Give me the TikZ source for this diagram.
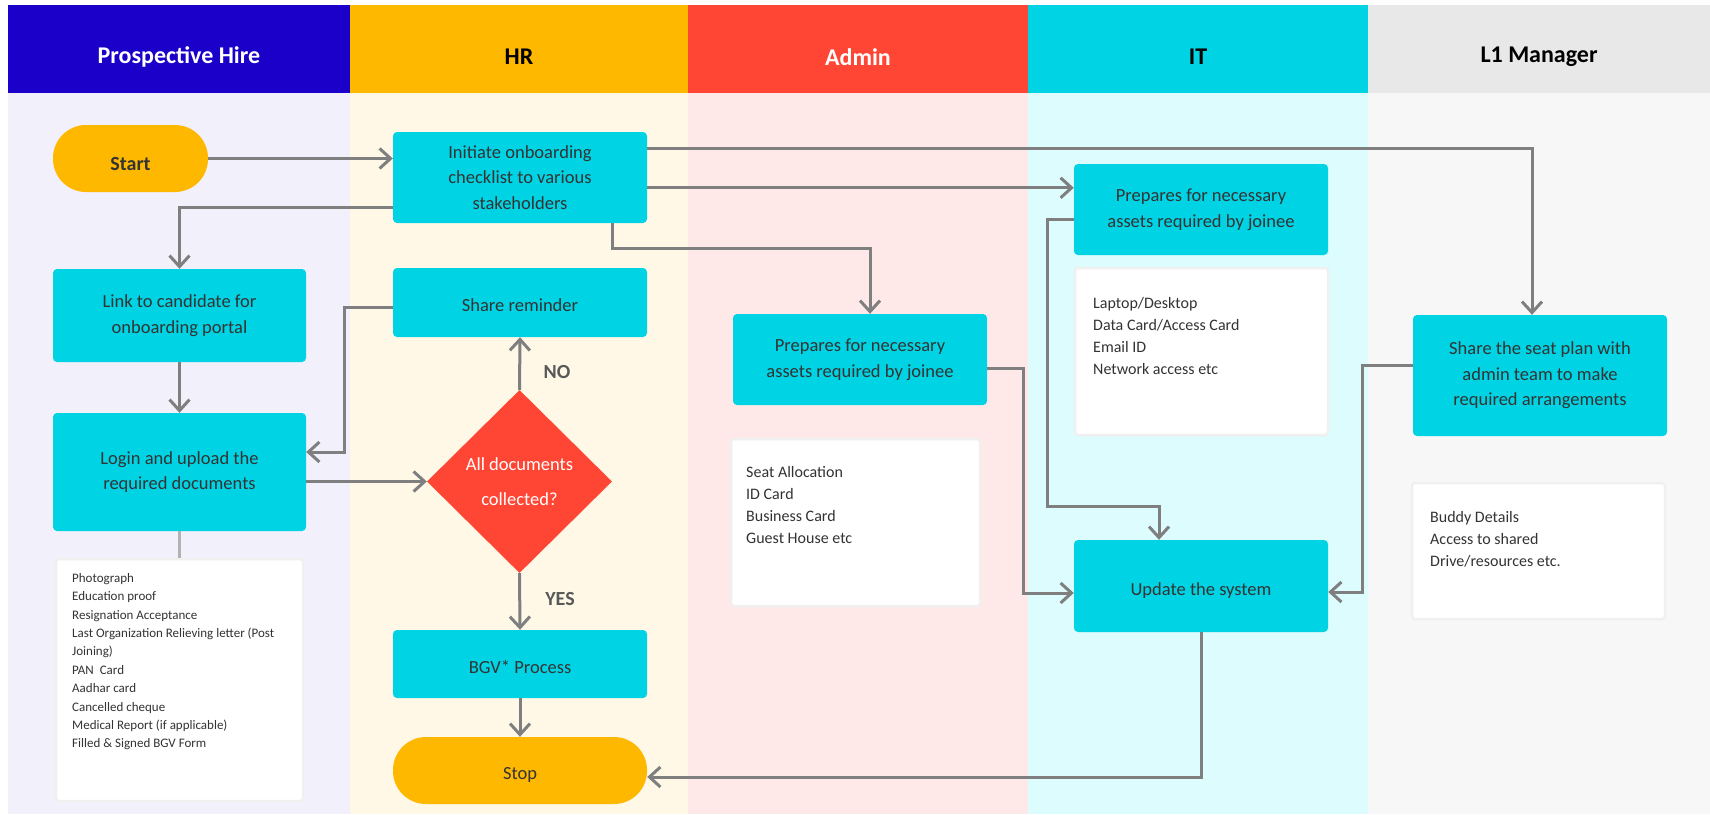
\documentclass[tikz,border=0pt]{standalone}
\usepackage{fontspec}
\setmainfont{Carlito}
\usetikzlibrary{arrows.meta,shapes.geometric}

\definecolor{phhead}{HTML}{1A00C8}
\definecolor{hrhead}{HTML}{FFB800}
\definecolor{adhead}{HTML}{FF4533}
\definecolor{ithead}{HTML}{00D3E3}
\definecolor{l1head}{HTML}{E8E8E8}
\definecolor{phlane}{HTML}{F2F0FB}
\definecolor{hrlane}{HTML}{FFF8E7}
\definecolor{adlane}{HTML}{FFE9E8}
\definecolor{itlane}{HTML}{DCFCFE}
\definecolor{l1lane}{HTML}{F7F7F7}
\definecolor{boxfill}{HTML}{00D3E3}
\definecolor{termfill}{HTML}{FFB800}
\definecolor{decfill}{HTML}{FF4533}
\definecolor{linkgray}{HTML}{7F7F7F}
\definecolor{txt}{HTML}{333333}

\tikzset{
  lanehead/.style={font=\bfseries\fontsize{24}{28}\selectfont},
  stepbox/.style={rectangle, fill=boxfill, rounded corners=4pt, inner sep=0pt,
    align=center, text=txt, font=\fontsize{18.5}{25.5}\selectfont},
  oneline/.style={text height=18.5pt, text depth=0pt},
  terminal/.style={rectangle, fill=termfill, rounded corners=33pt, inner sep=0pt,
    text=txt, font=\fontsize{18.5}{22}\selectfont},
  decision/.style={diamond, fill=decfill, inner sep=0pt, text=white, align=center,
    font=\fontsize{18.5}{35}\selectfont},
  notebox/.style={rectangle, fill=white, draw=black!6, line width=2.5pt,
    rounded corners=3pt, inner sep=0pt},
  notetext/.style={inner sep=0pt, anchor=north west, align=left, text=txt},
  flow/.style={draw=linkgray, line width=3pt,
    -{Straight Barb[length=11pt,width=20pt,line width=3pt]}},
  plainlink/.style={draw=black!30, line width=3pt},
  answer/.style={font=\bfseries\fontsize{20}{24}\selectfont, text=black!65},
}

\begin{document}
\begin{tikzpicture}[x=1pt,y=-1pt]
  \useasboundingbox (0,0) rectangle (1710,814);
  \fill[white] (0,0) rectangle (1710,814);

  % swimlane bodies
  \fill[phlane] (8,93) rectangle (350,814);
  \fill[hrlane] (350,93) rectangle (688,814);
  \fill[adlane] (688,93) rectangle (1028,814);
  \fill[itlane] (1028,93) rectangle (1368,814);
  \fill[l1lane] (1368,93) rectangle (1710,814);

  % swimlane headers
  \fill[phhead] (8,5) rectangle (350,93);
  \fill[hrhead] (350,5) rectangle (688,93);
  \fill[adhead] (688,5) rectangle (1028,93);
  \fill[ithead] (1028,5) rectangle (1368,93);
  \fill[l1head] (1368,5) rectangle (1710,93);
  \node[lanehead, text=white] (hph) at (179,57) {Prospective Hire};
  \node[lanehead, text=black] (hhr) at (519,57) {HR};
  \node[lanehead, text=white] (had) at (858,57) {Admin};
  \node[lanehead, text=black] (hit) at (1198,57) {IT};
  \node[lanehead, text=black] (hl1) at (1539,57) {L1 Manager};

  % Prospective Hire lane
  \node[terminal, minimum width=155pt, minimum height=67pt, text height=23pt, text depth=0pt,
    font=\bfseries\fontsize{20}{24}\selectfont] (start) at (130.5,158.5) {Start};
  \node[stepbox, minimum width=253pt, minimum height=93pt] (link) at (179.5,315.5)
    {Link to candidate for\\onboarding portal};
  \node[stepbox, minimum width=253pt, minimum height=118pt] (login) at (179.5,472)
    {Login and upload the\\required documents};
  \node[notebox, minimum width=247pt, minimum height=242pt] (docs) at (179.5,680) {};
  \node[notetext, font=\fontsize{13}{18.4}\selectfont] (docstext) at (72,573)
    {Photograph\\Education proof\\Resignation Acceptance\\Last Organization Relieving letter (Post\\Joining)\\PAN\ \ Card\\Aadhar card\\Cancelled cheque\\Medical Report (if applicable)\\Filled \& Signed BGV Form};

  % HR lane
  \node[stepbox, minimum width=254pt, minimum height=91pt] (init) at (520,177.5)
    {Initiate onboarding\\checklist to various\\stakeholders};
  \node[stepbox, oneline, minimum width=254pt, minimum height=69pt] (remind) at (520,302.5)
    {Share reminder};
  \node[decision, minimum width=185pt, minimum height=183pt, text depth=0pt] (decide) at (519.5,481.5)
    {All documents\\collected?};
  \node[stepbox, oneline, minimum width=254pt, minimum height=68pt] (bgv) at (520,664)
    {BGV* Process};
  \node[terminal, oneline, minimum width=254pt, minimum height=67pt] (stop) at (520,770.5) {Stop};
  \node[answer] (no) at (557,372) {NO};
  \node[answer] (yes) at (560,599) {YES};

  % Admin lane
  \node[stepbox, minimum width=254pt, minimum height=91pt] (adm) at (860,359.5)
    {Prepares for necessary\\assets required by joinee};
  \node[notebox, minimum width=249pt, minimum height=167pt] (admlist) at (855.5,522.5) {};
  \node[notetext, font=\fontsize{16}{22}\selectfont] (admtext) at (746,466.5)
    {Seat Allocation\\ID Card\\Business Card\\Guest House etc};

  % IT lane
  \node[stepbox, minimum width=254pt, minimum height=91pt] (itprep) at (1201,209.5)
    {Prepares for necessary\\assets required by joinee};
  \node[notebox, minimum width=253pt, minimum height=167pt] (itlist) at (1201.5,351.5) {};
  \node[notetext, font=\fontsize{16}{22}\selectfont] (ittext) at (1093,297.5)
    {Laptop/Desktop\\Data Card/Access Card\\Email ID\\Network access etc};
  \node[stepbox, oneline, minimum width=254pt, minimum height=92pt] (upd) at (1201,586)
    {Update the system};

  % L1 Manager lane
  \node[stepbox, minimum width=254pt, minimum height=121pt] (l1) at (1540,375.5)
    {Share the seat plan with\\admin team to make\\required arrangements};
  \node[notebox, minimum width=253pt, minimum height=136pt] (l1list) at (1538.5,551) {};
  \node[notetext, font=\fontsize{16}{22}\selectfont] (l1text) at (1430,511.5)
    {Buddy Details\\Access to shared\\Drive/resources etc.};

  % connectors
  \draw[plainlink] (login.south) -- (docs.north);
  \draw[flow] (start.east) -- (start.east -| init.west);
  \coordinate (initToL1) at ([yshift=-17pt]init.north east);
  \draw[flow] (initToL1) -| ([xshift=-8pt]l1.north);
  \coordinate (initToIt) at ([yshift=-56pt]init.north east);
  \draw[flow] (initToIt) -- (initToIt -| itprep.west);
  \draw[flow] ([xshift=-35pt]init.south east) -- ++(0,25) -| ([xshift=10pt]adm.north);
  \draw[flow] ([yshift=-29.5pt]init.west) -| (link.north);
  \draw[flow] (link.south) -- (login.north);
  \draw[flow] (login.east |- decide.west) -- (decide.west);
  \draw[flow] (decide.north) -- (remind.south);
  \draw[flow] ([yshift=-4.5pt]remind.west) -- ++(-48.5,0) |- ([yshift=20pt]login.east);
  \draw[flow] (decide.south) -- (bgv.north);
  \draw[flow] (bgv.south) -- (stop.north);
  \draw[flow] (upd.south) |- ([yshift=-6.5pt]stop.east);
  \draw[flow] ([yshift=-9.5pt]itprep.west) -- ++(-26.5,0) -- ++(0,287) -| ([xshift=-42pt]upd.north);
  \draw[flow] ([yshift=-8.5pt]adm.east) -- ++(36,0) |- ([yshift=-7pt]upd.west);
  \draw[flow] ([yshift=10.5pt]l1.west) -- ++(-50,0) |- ([yshift=-6pt]upd.east);
\end{tikzpicture}
\end{document}
